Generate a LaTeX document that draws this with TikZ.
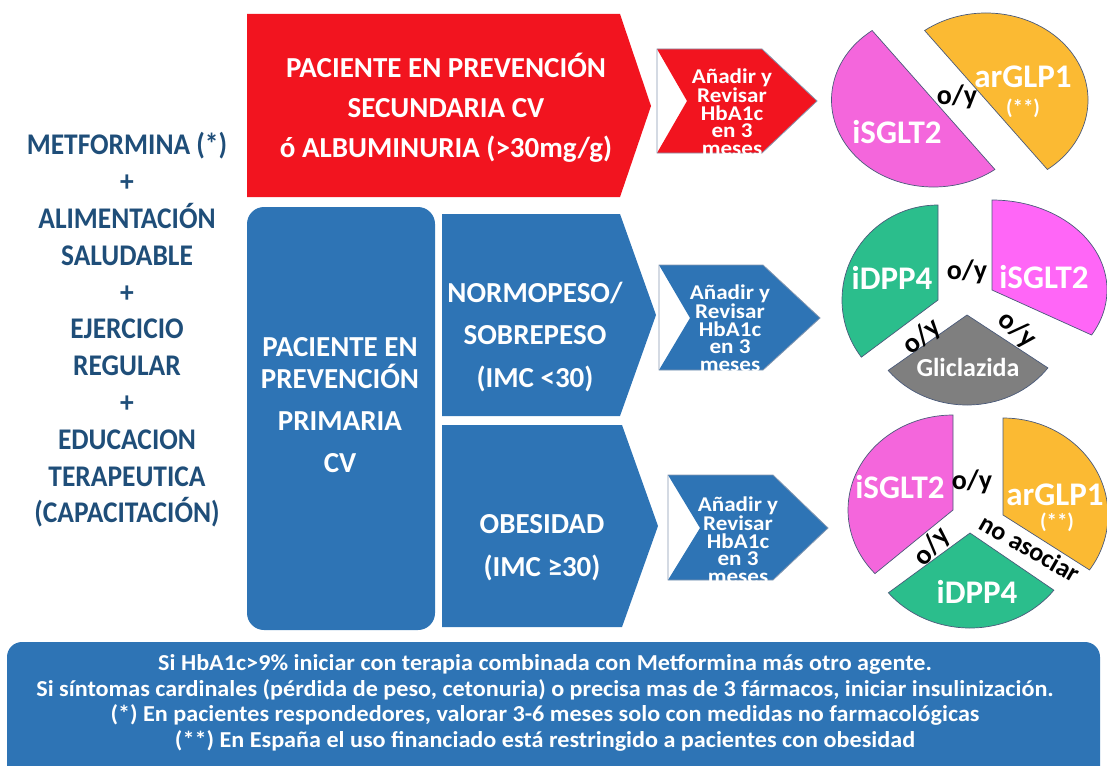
\documentclass[tikz,border=0pt]{standalone}
\usepackage{fontspec}
\setmainfont{Carlito}
\newfontfamily\estrecha[FakeStretch=0.915]{Carlito}
\newfontfamily\ancha[FakeStretch=1.1]{Carlito}
\newfontfamily\notafont[FakeStretch=1.06]{Carlito}
\usepackage{tikz}
\usetikzlibrary{calc}

\definecolor{rojo}{HTML}{F2141F}
\definecolor{azul}{HTML}{2E74B5}
\definecolor{azuloscuro}{HTML}{1F4E79}
\definecolor{rosa}{HTML}{F466DC}
\definecolor{rosab}{HTML}{FF66F7}
\definecolor{naranja}{HTML}{FBBA33}
\definecolor{verde}{HTML}{2BBE8C}
\definecolor{gris}{HTML}{7F7F7F}
\definecolor{borde}{HTML}{4A5A7A}
\definecolor{bordeflecha}{HTML}{8497B0}

\begin{document}
\begin{tikzpicture}[x=1pt,y=-1pt,
	lista/.style={text=azuloscuro,align=center,font=\estrecha\fontsize{30}{36.8}\selectfont\bfseries},
	titulo/.style={text=white,align=center,font=\fontsize{29}{40}\selectfont\bfseries},
	revisar/.style={text=white,align=center,font=\ancha\fontsize{21}{17.5}\selectfont\bfseries},
	farmaco/.style={text=white,font=\fontsize{33}{33}\selectfont\bfseries},
	asterisco/.style={text=white,font=\fontsize{21}{21}\selectfont\bfseries},
	oy/.style={text=black,font=\fontsize{28}{28}\selectfont\bfseries},
	nota/.style={text=white,align=center,font=\notafont\fontsize{22.8}{25.7}\selectfont\bfseries},
	pieza/.style={draw=borde,line width=0.7pt},
	contorno/.style={draw=bordeflecha,line width=0.8pt}]
	
	\useasboundingbox (0,0) rectangle (1107,765);
	
	% medidas de base
	\node[lista] (base) at (127,330) {METFORMINA (*)\\+\\ALIMENTACIÓN\\SALUDABLE\\+\\EJERCICIO\\REGULAR\\+\\EDUCACION\\TERAPEUTICA\\(CAPACITACIÓN)};
	
	% prevencion secundaria
	\fill[rojo] (247,14) -- (620,14) -- (651,106) -- (620,197) -- (247,197) -- cycle;
	\node[titulo] (secundaria) at (446,108) {PACIENTE EN PREVENCIÓN\\SECUNDARIA CV\\ó ALBUMINURIA (>30mg/g)};
	
	% prevencion primaria
	\fill[azul, rounded corners=17pt] (247,207) rectangle (435,630);
	\node[titulo] (primaria) at (340,405) {PACIENTE EN\\[-8pt]PREVENCIÓN\\[2pt]PRIMARIA\\[2pt]CV};
	
	\fill[azul] (442,214) -- (620,214) -- (656,315) -- (620,416) -- (442,416) -- cycle;
	\node[titulo, font=\fontsize{29}{42.5}\selectfont\bfseries] (normopeso) at (535,337) {NORMOPESO/\\SOBREPESO\\(IMC <30)};
	
	\fill[azul] (442,425) -- (622,425) -- (658,526) -- (622,627) -- (442,627) -- cycle;
	\node[titulo, font=\fontsize{29}{43}\selectfont\bfseries] (obesidad) at (542,548) {OBESIDAD\\(IMC ≥30)};
	
	% flechas de revision
	\begin{scope}[shift={(657,49)}]
		\fill[rojo] (0,0) -- (105,0) -- (160,52) -- (105,104) -- (0,104) -- (30,52) -- cycle;
		\draw[contorno] (0,0) -- (105,0) -- (160,52) -- (105,104) -- (0,104) -- cycle;
		\node[revisar] (revisarA) at (75,63) {Añadir y\\Revisar\\HbA1c\\en 3\\meses};
	\end{scope}
	
	\begin{scope}[shift={(659,265)}]
		\fill[azul] (0,0) -- (104,0) -- (161,53) -- (104,105) -- (0,105) -- (31,53) -- cycle;
		\draw[contorno] (0,0) -- (104,0) -- (161,53) -- (104,105) -- (0,105) -- cycle;
		\node[revisar] (revisarB) at (71,63) {Añadir y\\Revisar\\HbA1c\\en 3\\meses};
	\end{scope}
	
	\begin{scope}[shift={(668,475)}]
		\fill[azul] (0,0) -- (105,0) -- (160,53) -- (105,105) -- (0,105) -- (32,53) -- cycle;
		\draw[contorno] (0,0) -- (105,0) -- (160,53) -- (105,105) -- (0,105) -- cycle;
		\node[revisar] (revisarC) at (70,65) {Añadir y\\Revisar\\HbA1c\\en 3\\meses};
	\end{scope}
	
	% circulo superior
	\filldraw[pieza, fill=rosa] (933.5,100) ++(233:102 and 87) arc[start angle=233, end angle=53, x radius=102, y radius=87] -- cycle;
	\filldraw[pieza, fill=naranja] (986,100) ++(53:102 and 87) arc[start angle=53, end angle=-127, x radius=102, y radius=87] -- cycle;
	\node[farmaco] (sglt2A) at (897,132) {iSGLT2};
	\node[farmaco] (glp1A) at (1023,77) {arGLP1};
	\node[asterisco] (astA) at (1023,108) {(**)};
	\node[oy] (oyA) at (957,97) {o/y};
	
	% circulo central
	\filldraw[pieza, fill=verde] (938,300) -- ++(270:96 and 95) arc[start angle=270, end angle=143, x radius=96, y radius=95] -- cycle;
	\filldraw[pieza, fill=rosab] (992,290) -- ++(270:115 and 90) arc[start angle=270, end angle=390, x radius=115, y radius=90] -- cycle;
	\filldraw[pieza, fill=gris] (967,315) -- ++(142:100 and 90) arc[start angle=142, end angle=36, x radius=100, y radius=90] -- cycle;
	\node[farmaco] (dpp4B) at (892,278) {iDPP4};
	\node[farmaco] (sglt2B) at (1044,277) {iSGLT2};
	\node[oy] (oyB) at (967,272) {o/y};
	\node[oy, rotate=40] (oyB2) at (922,337) {o/y};
	\node[oy, rotate=-40] (oyB3) at (1017,330) {o/y};
	\node[farmaco, font=\fontsize{26}{26}\selectfont\bfseries] (glic) at (968,367) {Gliclazida};
	
	% circulo inferior
	\filldraw[pieza, fill=rosa] (953,510) -- ++(270:105 and 95) arc[start angle=270, end angle=138, x radius=105, y radius=95] -- cycle;
	\filldraw[pieza, fill=naranja] (1003,515) -- ++(270:105 and 97) arc[start angle=270, end angle=394.5, x radius=105, y radius=97] -- cycle;
	\filldraw[pieza, fill=verde] (970,533) -- ++(141:105 and 95) arc[start angle=141, end angle=37, x radius=105, y radius=95] -- cycle;
	\node[farmaco] (sglt2C) at (900,487) {iSGLT2};
	\node[oy] (oyC) at (972,482) {o/y};
	\node[farmaco] (glp1C) at (1055,495) {arGLP1};
	\node[asterisco] (astC) at (1057,522) {(**)};
	\node[oy, rotate=48] (oyC2) at (932,547) {o/y};
	\node[oy, font=\fontsize{26}{26}\selectfont\bfseries, rotate=-30] (noasociar) at (1030,548) {no asociar};
	\node[farmaco] (dpp4C) at (977,592) {iDPP4};
	
	% notas
	\begin{scope}
		\clip (0,0) rectangle (1107,765);
		\fill[azul, rounded corners=15pt] (7,642) rectangle (1100,800);
	\end{scope}
	\node[nota] (notas) at (545,703) {Si HbA1c>9\% iniciar con terapia combinada con Metformina más otro agente.\\Si síntomas cardinales (pérdida de peso, cetonuria) o precisa mas de 3 fármacos, iniciar insulinización.\\(*) En pacientes respondedores, valorar 3-6 meses solo con medidas no farmacológicas\\(**) En España el uso financiado está restringido a pacientes con obesidad};
	
\end{tikzpicture}
\end{document}
